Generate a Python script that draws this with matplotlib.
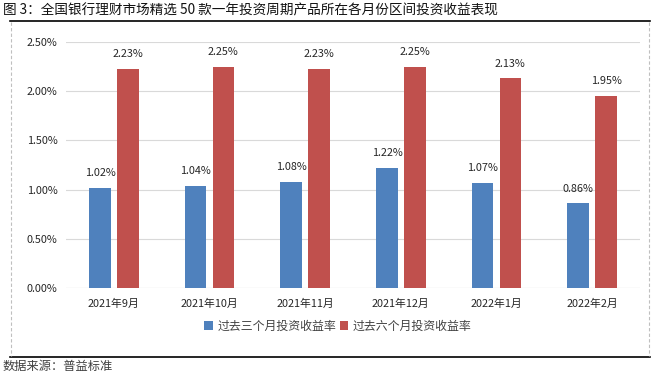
import matplotlib.pyplot as plt
import matplotlib.lines as mlines
import numpy as np

plt.rcParams['font.family'] = ['Noto Sans CJK SC', 'DejaVu Sans']

# Data
months = ['2021年9月', '2021年10月', '2021年11月', '2021年12月', '2022年1月', '2022年2月']
three_month = [1.02, 1.04, 1.08, 1.22, 1.07, 0.86]
six_month = [2.23, 2.25, 2.23, 2.25, 2.13, 1.95]
series_names = ['过去三个月投资收益率', '过去六个月投资收益率']
yticks = [0.0, 0.5, 1.0, 1.5, 2.0, 2.5]

blue = '#4F81BD'
red = '#C0504D'

fig = plt.figure(figsize=(6.59, 3.76), dpi=100)
ax = fig.add_axes([66 / 659, 1 - 288 / 376, 574 / 659, 246 / 376])

x = np.arange(len(months))
w = 0.225
off = w / 2 + 0.033
b1 = ax.bar(x - off, three_month, w, color=blue, label=series_names[0], zorder=3)
b2 = ax.bar(x + off, six_month, w, color=red, label=series_names[1], zorder=3)

for bars, vals in ((b1, three_month), (b2, six_month)):
    for rect, v in zip(bars, vals):
        ax.annotate(f'{v:.2f}%', (rect.get_x() + rect.get_width() / 2, v),
                    xytext=(0, 7), textcoords='offset points',
                    ha='center', va='bottom', fontsize=7.8, color='#262626')

ax.set_xlim(-0.5, len(months) - 0.5)
ax.set_ylim(0, 2.5)
ax.set_yticks(yticks)
ax.set_yticklabels([f'{t:.2f}%' for t in yticks], fontsize=7.8, color='#262626')
ax.set_xticks(x)
ax.set_xticklabels(months, fontsize=7.8, color='#262626')
ax.tick_params(axis='y', length=0, pad=6)
ax.tick_params(axis='x', length=0, pad=8)
ax.grid(axis='y', color='#D9D9D9', linewidth=0.8, zorder=0)
for s in ax.spines.values():
    s.set_visible(False)
ax.axhline(0, color='#D9D9D9', linewidth=0.8, zorder=2)

leg = fig.legend(handles=[b1, b2], loc='center', bbox_to_anchor=(338 / 659, 1 - 326 / 376),
                 ncol=2, frameon=False, fontsize=8.6, handlelength=0.7, handleheight=0.7,
                 handletextpad=0.4, columnspacing=0.3)
for t in leg.get_texts():
    t.set_color('#404040')

# frame lines
fig.add_artist(mlines.Line2D([10 / 659, 650 / 659], [1 - 20.5 / 376] * 2, color='black', lw=1.2))
fig.add_artist(mlines.Line2D([10 / 659, 650 / 659], [1 - 357 / 376] * 2, color='black', lw=1.2))
for xp in (11, 649):
    fig.add_artist(mlines.Line2D([xp / 659] * 2, [1 - 22 / 376, 1 - 356 / 376],
                                 color='#BFBFBF', lw=0.8, ls=(0, (3, 2))))

fig.text(3 / 659, 1 - 11 / 376, '图 3：全国银行理财市场精选 50 款一年投资周期产品所在各月份区间投资收益表现',
         fontsize=9.8, va='center', ha='left', color='#111111')
fig.text(3 / 659, 1 - 366 / 376, '数据来源：普益标准', fontsize=8.8, va='center', ha='left', color='#404040')

fig.savefig('out.png', dpi=100)
